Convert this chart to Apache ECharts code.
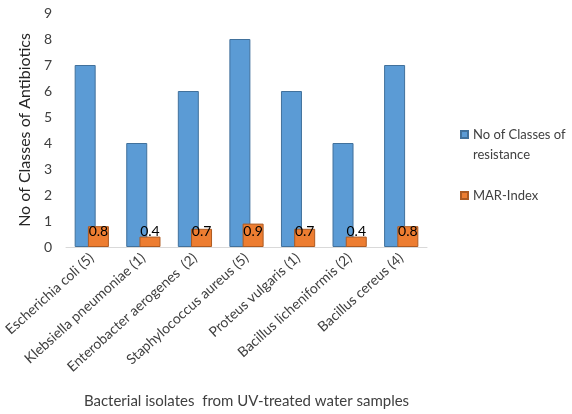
<!DOCTYPE html>
<html>
<head>
<meta charset="utf-8">
<script src="https://cdn.jsdelivr.net/npm/echarts@6/dist/echarts.min.js"></script>
<style>html,body{margin:0;padding:0;background:#fff}#c{width:572px;height:414px}</style>
</head>
<body>
<div id="c"></div>
<script>
var categories = ['Escherichia coli (5)', 'Klebsiella pneumoniae (1)', 'Enterobacter aerogenes  (2)', 'Staphylococcus aureus (5)', 'Proteus vulgaris (1)', 'Bacillus licheniformis (2)', 'Bacillus cereus (4)'];
var classesOfResistance = [7, 4, 6, 8, 6, 4, 7];
var marIndex = [0.8, 0.4, 0.7, 0.9, 0.7, 0.4, 0.8];
var seriesNames = ['No of Classes of resistance', 'MAR-Index'];
var yTicks = {min: 0, max: 9, interval: 1};

var font = 'Lato, "Open Sans", sans-serif';
var chart = echarts.init(document.getElementById('c'));
chart.setOption({
  animation: false,
  textStyle: {fontFamily: font},
  grid: {left: 66, right: 145, top: 13, bottom: 167, containLabel: false, outerBoundsMode: 'none'},
  legend: [{
    orient: 'vertical', left: 455, top: 103,
    itemWidth: 7, itemHeight: 7,
    icon: 'rect',
    data: [seriesNames[0]],
    formatter: function () { return '{e| }\n{a|No of Classes of}\n{a|resistance}'; },
    textStyle: {
      fontFamily: font, fontSize: 13, color: '#404040',
      rich: {
        e: {fontSize: 13, lineHeight: 20, fontFamily: font},
        a: {fontSize: 13, lineHeight: 20, color: '#404040', fontFamily: font}
      }
    }
  }, {
    orient: 'vertical', left: 455, top: 184,
    itemWidth: 7, itemHeight: 7,
    icon: 'rect',
    data: [seriesNames[1]],
    textStyle: {fontFamily: font, fontSize: 13, color: '#404040'}
  }],
  xAxis: {
    type: 'category',
    data: categories,
    axisLine: {lineStyle: {color: '#d9d9d9', width: 1}},
    axisTick: {show: false},
    axisLabel: {rotate: 42, fontSize: 14, color: '#404040', margin: 9, interval: 0, fontFamily: font},
    name: 'Bacterial isolates  from UV-treated water samples',
    nameLocation: 'middle', nameGap: 147,
    nameTextStyle: {fontSize: 15, color: '#404040', fontFamily: font}
  },
  yAxis: {
    type: 'value', min: yTicks.min, max: yTicks.max, interval: yTicks.interval,
    splitLine: {show: false},
    axisLine: {show: false}, axisTick: {show: false},
    axisLabel: {fontSize: 14, color: '#404040', margin: 14, fontFamily: font},
    name: 'No of Classes of Antibiotics',
    nameLocation: 'middle', nameGap: 31, nameRotate: 90,
    nameTextStyle: {fontSize: 16, color: '#262626', fontFamily: font}
  },
  series: [{
    name: seriesNames[0], type: 'bar', data: classesOfResistance,
    barWidth: 21, barGap: '-37%',
    itemStyle: {color: '#5b9bd5', borderColor: '#41719c', borderWidth: 1}
  }, {
    name: seriesNames[1], type: 'bar', data: marIndex,
    barWidth: 21, z: 3,
    itemStyle: {color: '#ed7d31', borderColor: '#ae5a21', borderWidth: 1},
    label: {show: true, position: 'insideBottom', distance: 9, fontSize: 14, color: '#000', fontFamily: font}
  }]
});
</script>
</body>
</html>
